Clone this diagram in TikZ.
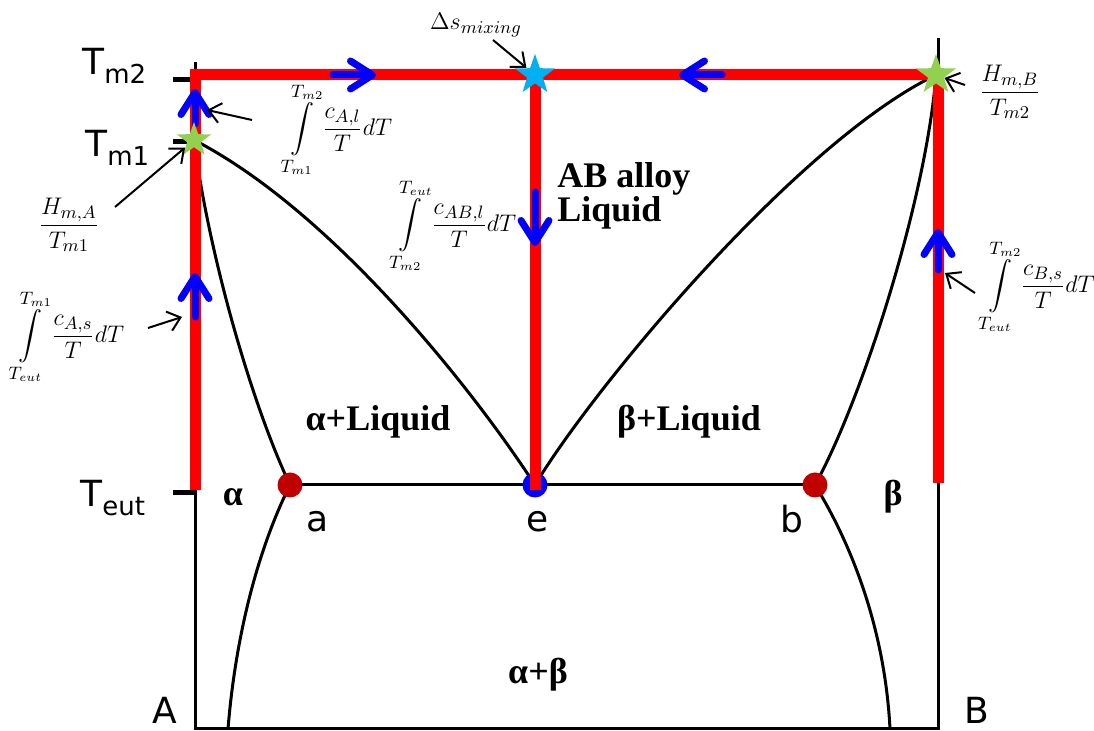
\documentclass[tikz,border=0pt]{standalone}
\usepackage{amsmath}
\usepackage{fontspec}
\setsansfont{DejaVu Sans}
\newfontfamily\regionfont{Liberation Serif}
\usetikzlibrary{arrows.meta,shapes.geometric}
\definecolor{pathred}{RGB}{255,0,0}
\definecolor{flowblue}{RGB}{0,0,255}
\definecolor{meltgreen}{RGB}{146,208,80}
\definecolor{mixcyan}{RGB}{0,176,240}
\definecolor{eutred}{RGB}{192,0,0}
\newcommand{\tsub}[1]{T\raisebox{-0.45ex}{\fontsize{13}{13}\selectfont #1}}

\begin{document}
\begin{tikzpicture}[x=0.5pt, y=-0.5pt, >={Straight Barb[length=6pt,width=10pt]},
          axlab/.style={font=\sffamily\fontsize{18}{20}\selectfont, inner sep=0pt},
          region/.style={font=\regionfont\bfseries\fontsize{18}{20}\selectfont, inner sep=0pt},
          eq/.style={font=\fontsize{13}{15}\selectfont, inner sep=0pt},
          phase/.style={black, line width=1.5pt, line join=miter},
          tick/.style={black, line width=2.5pt},
          route/.style={pathred, line width=5.5pt, line join=miter},
          flow/.style={flowblue, line width=3.5pt, line cap=round, -{Straight Barb[round, length=11pt, width=14pt]}},
          note/.style={->, line width=1pt},
          melt/.style={star, star points=5, star point ratio=2.5, fill=meltgreen, minimum size=21pt, inner sep=0pt},
          dot/.style={circle, minimum size=12.5pt, inner sep=0pt}]
        \useasboundingbox (0,0) rectangle (1094,731);
        \coordinate (topA) at (195,62);
        \coordinate (botA) at (195,729);
        \coordinate (topB) at (938,38);
        \coordinate (botB) at (938,729);
        \coordinate (m1) at (194,140);
        \coordinate (m2) at (936,75);
        \coordinate (tl) at (195,75);
        \coordinate (tm) at (535,75);
        \coordinate (tr) at (938,75);
        \coordinate (lend) at (195,490);
        \coordinate (mend) at (535,490);
        \coordinate (rend) at (938,483);
        \coordinate (pa) at (290,485);
        \coordinate (pe) at (535,485);
        \coordinate (pb) at (815,485);
        \coordinate (sa) at (228,729);
        \coordinate (sb) at (890,729);
        \draw[phase] (topA) -- (botA) -- (botB) -- (topB);
        \draw[tick] (173,80) -- (195,80);
        \draw[tick] (173,142) -- (195,142);
        \draw[tick] (173,493) -- (195,493);
        \draw[phase] (m1) .. controls (330,210) and (470,385) .. (pe);
        \draw[phase] (m1) .. controls (208,250) and (250,400) .. (pa);
        \draw[phase] (m2) .. controls (800,140) and (595,385) .. (pe);
        \draw[phase] (m2) .. controls (926,200) and (862,400) .. (pb);
        \draw[phase] (pa) .. controls (260,545) and (236,630) .. (sa);
        \draw[phase] (pb) .. controls (852,545) and (885,630) .. (sb);
        \draw[phase] (pa) -- (pb);
        \node[dot, fill=flowblue] (e) at (pe) {};
        \draw[route] (lend) -- (tl) -- (tr) -- (rend);
        \draw[route] (tm) -- (mend);
        \draw[flow] (195,317) -- (195,273);
        \draw[flow] (195,124) -- (195,89);
        \draw[flow] (333,75) -- (376,75);
        \draw[flow] (722,75) -- (679,75);
        \draw[flow] (535,192) -- (535,246);
        \draw[flow] (938,270) -- (938,229);
        \node[melt, minimum size=18pt] (s1) at (m1) {};
        \node[melt] (s2) at (m2) {};
        \node[melt, fill=mixcyan] (s3) at (tm) {};
        \node[dot, fill=eutred] (a) at (pa) {};
        \node[dot, fill=eutred] (b) at (pb) {};

        \node[axlab, anchor=base west] (tm2lab) at (82,75) {\tsub{m2}};
        \node[axlab, anchor=base west] (tm1lab) at (85,157) {\tsub{m1}};
        \node[axlab, anchor=base west] (teutlab) at (80,507) {\tsub{eut}};
        \node[axlab] (alab) at (318,522) {a};
        \node[axlab] (elab) at (538,522) {e};
        \node[axlab] (blab) at (792,519) {b};
        \node[axlab, anchor=base] (Alab) at (165,724) {A};
        \node[axlab, anchor=base] (Blab) at (977,724) {B};
        \node[region] (alpha) at (233,497) {α};
        \node[region] (beta) at (893,497) {β};
        \node[region] (aliq) at (378,422) {α+Liquid};
        \node[region] (bliq) at (689,422) {β+Liquid};
        \node[region, anchor=base west] (alloy) at (557,188) {AB alloy};
        \node[region, anchor=base west] (liq) at (557,222) {Liquid};
        \node[region] (ab) at (538,675) {α+β};

        \node[eq] (ds) at (476,25) {$\Delta s_{mixing}$};
        \node[eq] (hA) at (69,225) {$\dfrac{H_{m,A}}{T_{m1}}$};
        \node[eq] (iAs) at (69,337) {$\displaystyle\int\limits_{T_{eut}}^{T_{m1}}\frac{c_{A,s}}{T}dT$};
        \node[eq] (iAl) at (339,130) {$\displaystyle\int\limits_{T_{m1}}^{T_{m2}}\frac{c_{A,l}}{T}dT$};
        \node[eq] (iABl) at (455,226) {$\displaystyle\int\limits_{T_{m2}}^{T_{eut}}\frac{c_{AB,l}}{T}dT$};
        \node[eq] (hB) at (1010,92) {$\dfrac{H_{m,B}}{T_{m2}}$};
        \node[eq, anchor=west] (iBs) at (983,287) {$\displaystyle\int\limits_{T_{eut}}^{T_{m2}}\frac{c_{B,s}}{T}dT$};

        \coordinate (hAtail) at (115,207);
        \coordinate (iAstail) at (148,328);
        \coordinate (iAstip) at (182,317);
        \coordinate (iAltail) at (252,120);
        \coordinate (iAltip) at (207,110);
        \coordinate (dstail) at (493,40);
        \coordinate (hBtail) at (965,85);
        \coordinate (iBstail) at (975,293);
        \coordinate (iBstip) at (945,273);
        \draw[note] (hAtail) -- (s1);
        \draw[note] (iAstail) -- (iAstip);
        \draw[note] (iAltail) -- (iAltip);
        \draw[note] (dstail) -- (s3);
        \draw[note] (hBtail) -- (s2);
        \draw[note] (iBstail) -- (iBstip);
      \end{tikzpicture}
\end{document}
